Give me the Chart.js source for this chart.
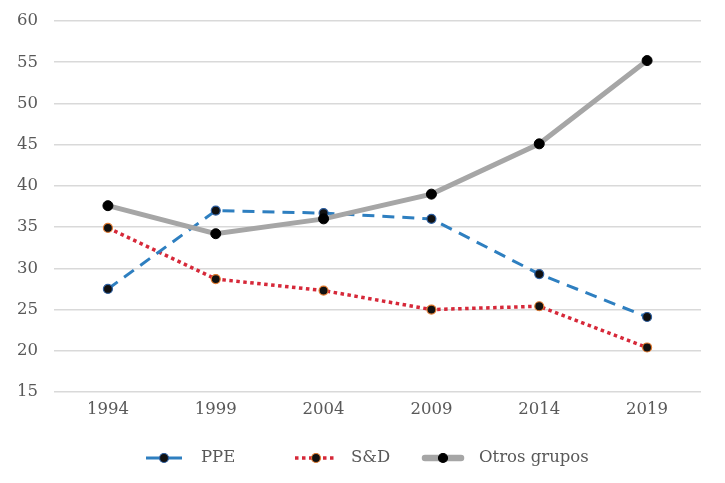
<!DOCTYPE html>
<html>
<head>
<meta charset="utf-8">
<script src="https://cdn.jsdelivr.net/npm/chart.js@4"></script>
<style>
html,body{margin:0;padding:0;background:#fff;}
#wrap{width:725px;height:483px;}
</style>
</head>
<body>
<div id="wrap"><canvas id="c" width="725" height="483"></canvas></div>
<script>
const categories = ["1994","1999","2004","2009","2014","2019"];
const ppe = [27.5, 37.0, 36.7, 36.0, 29.3, 24.1];
const sd = [34.9, 28.7, 27.3, 25.0, 25.4, 20.4];
const otros = [37.6, 34.2, 36.0, 39.0, 45.1, 55.2];
const seriesNames = ["PPE", "S&D", "Otros grupos"];

const FONT_FAMILY = "'DejaVu Serif', 'Liberation Serif', serif";
const font = {family: FONT_FAMILY, size: 16.5};
const TEXT_COLOR = '#595959';

// legend layout (styling only)
const legendY = 458;
const legendIconCenters = [164, 316, 443];
const legendIconHalf = [18, 21, 21];
const legendTextX = [201, 351, 479];

const customLegend = {
  id: 'customLegend',
  afterDraw(chart) {
    const ctx = chart.ctx;
    ctx.save();
    chart.data.datasets.forEach((d, i) => {
      const cx = legendIconCenters[i], h = legendIconHalf[i];
      ctx.strokeStyle = d.borderColor;
      ctx.lineWidth = d.legendLineWidth;
      ctx.setLineDash(d.legendDash);
      ctx.lineCap = d.legendCap;
      ctx.beginPath();
      if (d.legendCap === 'round') { ctx.moveTo(cx - h + 3, legendY); ctx.lineTo(cx + h - 3, legendY); }
      else if (d.legendDash.length && d.legendDash[0] > 6) {
        ctx.setLineDash([]);
        ctx.moveTo(cx - h, legendY); ctx.lineTo(cx - 5, legendY);
        ctx.moveTo(cx + 4, legendY); ctx.lineTo(cx + h, legendY);
      } else { ctx.moveTo(cx - h, legendY); ctx.lineTo(cx + h, legendY); }
      ctx.stroke();
      ctx.setLineDash([]);
      ctx.beginPath();
      ctx.arc(cx, legendY, 4.5, 0, Math.PI * 2);
      ctx.fillStyle = d.pointBackgroundColor; ctx.fill();
      ctx.lineWidth = 1.2; ctx.strokeStyle = d.pointBorderColor; ctx.stroke();
      ctx.fillStyle = TEXT_COLOR;
      ctx.font = font.size + 'px ' + FONT_FAMILY;
      ctx.textBaseline = 'middle';
      ctx.textAlign = 'left';
      ctx.fillText(d.label, legendTextX[i], legendY);
    });
    ctx.restore();
  }
};

new Chart(document.getElementById('c'), {
  type: 'line',
  data: {
    labels: categories,
    datasets: [
      {label: seriesNames[0], data: ppe, borderColor: '#2E7FC0', borderWidth: 3, borderDash: [12, 8],
       pointRadius: 4.5, pointBackgroundColor: '#111', pointBorderColor: '#2E5FA0', pointBorderWidth: 1.2, order: 1, tension: 0,
       legendLineWidth: 3, legendDash: [12, 8], legendCap: 'butt'},
      {label: seriesNames[1], data: sd, borderColor: '#D62839', borderWidth: 3.5, borderDash: [3.5, 3.5],
       pointRadius: 4.5, pointBackgroundColor: '#111', pointBorderColor: '#E07A30', pointBorderWidth: 1.2, order: 2, tension: 0,
       legendLineWidth: 3.5, legendDash: [3.5, 3.5], legendCap: 'butt'},
      {label: seriesNames[2], data: otros, borderColor: '#A6A6A6', borderWidth: 5,
       pointRadius: 5, pointBackgroundColor: '#000', pointBorderColor: '#000', pointBorderWidth: 1, order: 0, tension: 0,
       legendLineWidth: 6.5, legendDash: [], legendCap: 'round'}
    ]
  },
  options: {
    responsive: false,
    animation: false,
    layout: {padding: {top: 21, right: 24, bottom: 49, left: 0}},
    scales: {
      x: {
        offset: true,
        grid: {display: false, drawTicks: false},
        border: {display: false},
        ticks: {font: font, color: TEXT_COLOR, padding: 8},
        afterFit: s => { s.height = 42; s.paddingLeft = 0; s.paddingRight = 0; }
      },
      y: {
        min: 15, max: 60,
        ticks: {stepSize: 5, font: font, color: TEXT_COLOR, padding: 16},
        grid: {color: '#D9D9D9', lineWidth: 1.5, drawTicks: false},
        border: {display: false},
        afterFit: s => { s.width = 54; s.paddingTop = 0; s.paddingBottom = 0; }
      }
    },
    plugins: {
      tooltip: {enabled: false},
      legend: {display: false}
    }
  },
  plugins: [customLegend]
});
</script>
</body>
</html>
